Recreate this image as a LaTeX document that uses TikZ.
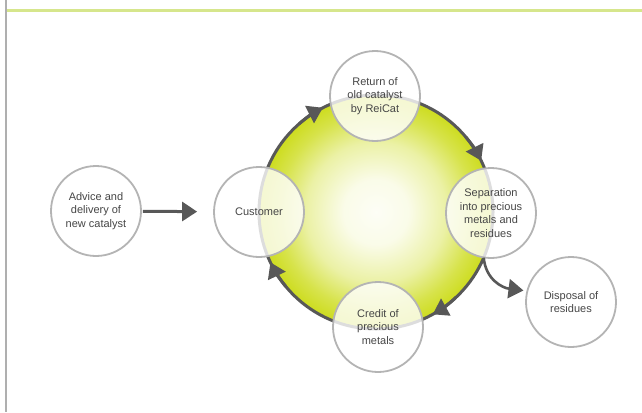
\documentclass[tikz,border=0pt]{standalone}
\usepackage{fontspec}
\setmainfont{Liberation Sans}
\usetikzlibrary{arrows.meta,calc}
\definecolor{yg}{RGB}{205,220,30}
\definecolor{dk}{RGB}{88,88,88}
\definecolor{rim}{RGB}{180,180,180}
\definecolor{txt}{RGB}{70,70,70}
\definecolor{topline}{RGB}{214,230,140}
\definecolor{leftline}{RGB}{175,175,175}
\colorlet{ygA}{white!96!yg}
\colorlet{ygB}{white!90!yg}
\colorlet{ygC}{yg!40!white}
\colorlet{ygD}{yg!80!white}
\pgfdeclareradialshading{ygball}{\pgfpoint{0bp}{0bp}}{color(0bp)=(ygA); color(7bp)=(ygB); color(15bp)=(ygC); color(21bp)=(ygD); color(25bp)=(yg); color(50bp)=(yg)}
\begin{document}
\begin{tikzpicture}[x=1pt,y=-1pt,
  bub/.style={circle, draw=rim, line width=1.8pt, fill=white, fill opacity=0.8, text opacity=1,
    minimum size=90pt, inner sep=0pt, align=center, text=txt, font=\fontsize{11}{13.5}\selectfont},
  flow/.style={draw=dk, line width=3pt, -{Triangle[length=15pt,width=19pt]}}]
\useasboundingbox (0,0) rectangle (642,412);
\draw[leftline, line width=2pt] (6,0) -- (6,412);
\draw[topline, line width=2.5pt] (7,10.5) -- (642,10.5);
\coordinate (C) at (376,212);
\shadedraw[draw=dk, line width=3pt, shading=ygball] (C) circle[radius=117];
\foreach \a in {243,334,61,154.5}
  \draw[flow] ([shift={(\a-14:117)}]C) arc[start angle=\a-14, end angle=\a, radius=117];
\node[bub] (adv) at (96,211) {Advice and\\delivery of\\new catalyst};
\node[bub] (cus) at (259,212) {Customer};
\node[bub] (ret) at (375,96) {Return of\\old catalyst\\by ReiCat};
\node[bub] (sep) at (491,213) {Separation\\into precious\\metals and\\residues};
\node[bub] (cre) at (378,327) {Credit of\\precious\\metals};
\node[bub] (dis) at (571,302) {Disposal of\\residues};
\draw[flow, shorten <=1pt, shorten >=16pt] (adv) -- (cus);
\coordinate (ds) at ([shift={(23:117)}]C);
\draw[flow, line width=2.6pt, shorten >=3pt] (ds) .. controls +(2,22) and +(-24,-3) .. (dis.166);
\end{tikzpicture}
\end{document}
